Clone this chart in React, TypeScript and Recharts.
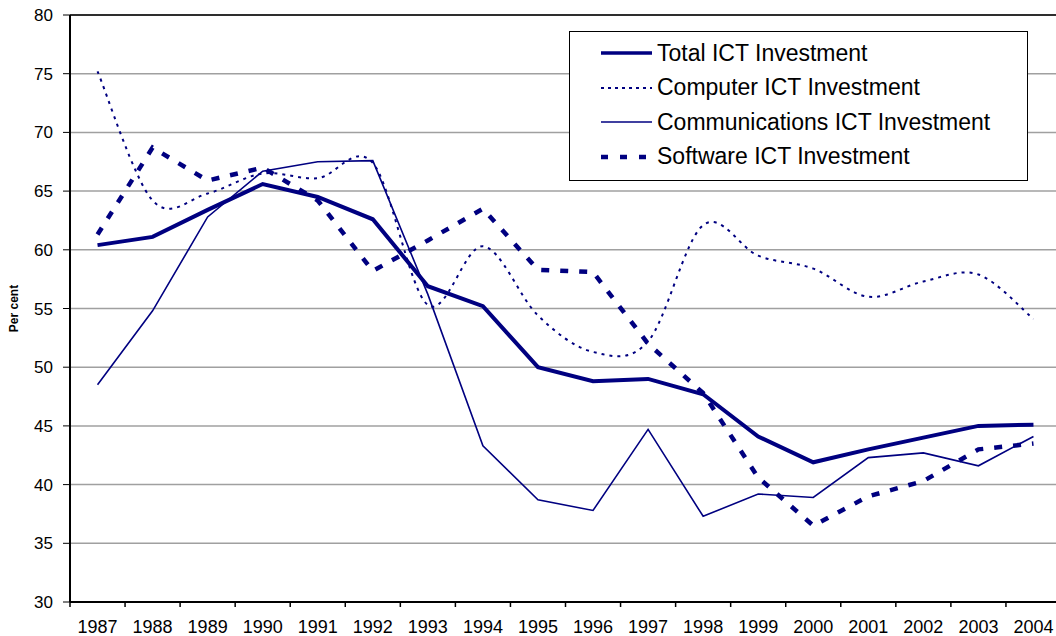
import { CartesianGrid, Line, LineChart, ReferenceLine, XAxis, YAxis } from "recharts"

const years = ["1987", "1988", "1989", "1990", "1991", "1992", "1993", "1994", "1995", "1996", "1997", "1998", "1999", "2000", "2001", "2002", "2003", "2004"]
const total = [60.4, 61.1, 63.4, 65.6, 64.5, 62.6, 56.9, 55.2, 50.0, 48.8, 49.0, 47.7, 44.1, 41.9, 43.0, 44.0, 45.0, 45.1]
const computer = [75.2, 64.2, 64.8, 66.5, 66.1, 67.4, 55.3, 60.3, 54.4, 51.3, 52.2, 62.1, 59.5, 58.4, 56.0, 57.3, 57.9, 54.1]
const communications = [48.5, 54.8, 62.8, 66.7, 67.5, 67.6, 56.2, 43.3, 38.7, 37.8, 44.7, 37.3, 39.2, 38.9, 42.3, 42.7, 41.6, 44.1]
const software = [61.3, 68.7, 65.9, 67.0, 64.2, 58.2, 60.8, 63.5, 58.3, 58.1, 52.0, 47.8, 40.6, 36.5, 39.0, 40.3, 43.0, 43.5]
const yTicks = [30, 35, 40, 45, 50, 55, 60, 65, 70, 75, 80]

const data = years.map((year, i) => ({
    year,
    total: total[i],
    computer: computer[i],
    communications: communications[i],
    software: software[i],
}))

const NAVY = "#000080"
const FONT = "Arial, 'Liberation Sans', sans-serif"
const PLOT_W = 991
const BAND = PLOT_W / years.length

// excel-style smoothing (catmull-rom through the points)
function excelCurve(context: any) {
    let pts: number[][] = []
    return {
        areaStart() {},
        areaEnd() {},
        lineStart() { pts = [] },
        point(x: number, y: number) { pts.push([+x, +y]) },
        lineEnd() {
            if (!pts.length) return
            context.moveTo(pts[0][0], pts[0][1])
            for (let i = 0; i < pts.length - 1; i++) {
                const p0 = pts[i - 1] || pts[i]
                const p1 = pts[i]
                const p2 = pts[i + 1]
                const p3 = pts[i + 2] || pts[i + 1]
                context.bezierCurveTo(
                    p1[0] + (p2[0] - p0[0]) / 6, p1[1] + (p2[1] - p0[1]) / 6,
                    p2[0] - (p3[0] - p1[0]) / 6, p2[1] - (p3[1] - p1[1]) / 6,
                    p2[0], p2[1]
                )
            }
        },
    }
}

const series = [
    { key: "total", name: "Total ICT Investment", width: 4, dash: undefined, curve: "linear" as any },
    { key: "computer", name: "Computer ICT Investment", width: 2, dash: "3 5", curve: excelCurve as any },
    { key: "communications", name: "Communications ICT Investment", width: 1.6, dash: undefined, curve: "linear" as any },
    { key: "software", name: "Software ICT Investment", width: 4.5, dash: "8 11", curve: "linear" as any },
]

function YearTick(props: any) {
    const { x, y, payload } = props
    const top = y - 13
    return (
        <g>
            <line x1={x - BAND / 2} x2={x - BAND / 2} y1={top} y2={top + 5} stroke="#000" strokeWidth={1.5} />
            <text x={x} y={y + 18} textAnchor="middle" fontSize={18} fontFamily={FONT} fill="#000">
                {payload.value}
            </text>
        </g>
    )
}

function LegendBox() {
    return (
        <div style={{ position: "absolute", left: 569, top: 31, border: "1px solid #000", background: "#fff", padding: "4px 0 6px 0", width: 459, boxSizing: "border-box" }}>
            {series.map((s) => (
                <div key={s.key} style={{ display: "flex", alignItems: "center", height: 34.5 }}>
                    <svg width={87} height={10} style={{ flex: "none" }}>
                        <line x1={31} x2={82} y1={5} y2={5} stroke={NAVY} strokeWidth={s.key === "software" ? 4.5 : s.width === 4 ? 3.5 : s.width} strokeDasharray={s.key === "computer" ? "3 4" : s.key === "software" ? "7 12" : undefined} />
                    </svg>
                    <span style={{ fontFamily: FONT, fontSize: 23, color: "#000", whiteSpace: "nowrap" }}>{s.name}</span>
                </div>
            ))}
        </div>
    )
}

export default function App() {
    return (
        <div style={{ position: "absolute", left: 0, top: 0, width: 1056, height: 636, overflow: "hidden", background: "#fff" }}>
            <LineChart width={70 + PLOT_W + 1} height={636} data={data} margin={{ top: 15, right: 1, left: 0, bottom: 0 }}>
                <CartesianGrid vertical={false} stroke="#a0a0a0" strokeWidth={1.5} />
                <XAxis
                    dataKey="year"
                    interval={0}
                    height={34}
                    padding={{ left: BAND / 2, right: BAND / 2 }}
                    tickLine={false}
                    tickSize={5}
                    tickMargin={8}
                    axisLine={{ stroke: "#000", strokeWidth: 2 }}
                    tick={<YearTick />}
                />
                <YAxis
                    domain={[30, 80]}
                    ticks={yTicks}
                    width={70}
                    tickSize={7}
                    tickMargin={10}
                    tick={{ fontSize: 17, fill: "#000", fontFamily: FONT }}
                    tickLine={{ stroke: "#000" }}
                    axisLine={{ stroke: "#000", strokeWidth: 2 }}
                    label={{ value: "Per cent", angle: -90, position: "insideLeft", offset: 14, style: { fontSize: 12, fontWeight: "bold", fontFamily: FONT, fill: "#000", textAnchor: "middle" } }}
                />
                <ReferenceLine y={80} stroke="#000" strokeWidth={1.5} />
                {series.map((s) => (
                    <Line
                        key={s.key}
                        dataKey={s.key}
                        name={s.name}
                        type={s.curve}
                        stroke={NAVY}
                        strokeWidth={s.width}
                        strokeDasharray={s.dash}
                        dot={false}
                        activeDot={false}
                        isAnimationActive={false}
                    />
                ))}
            </LineChart>
            <LegendBox />
        </div>
    )
}
